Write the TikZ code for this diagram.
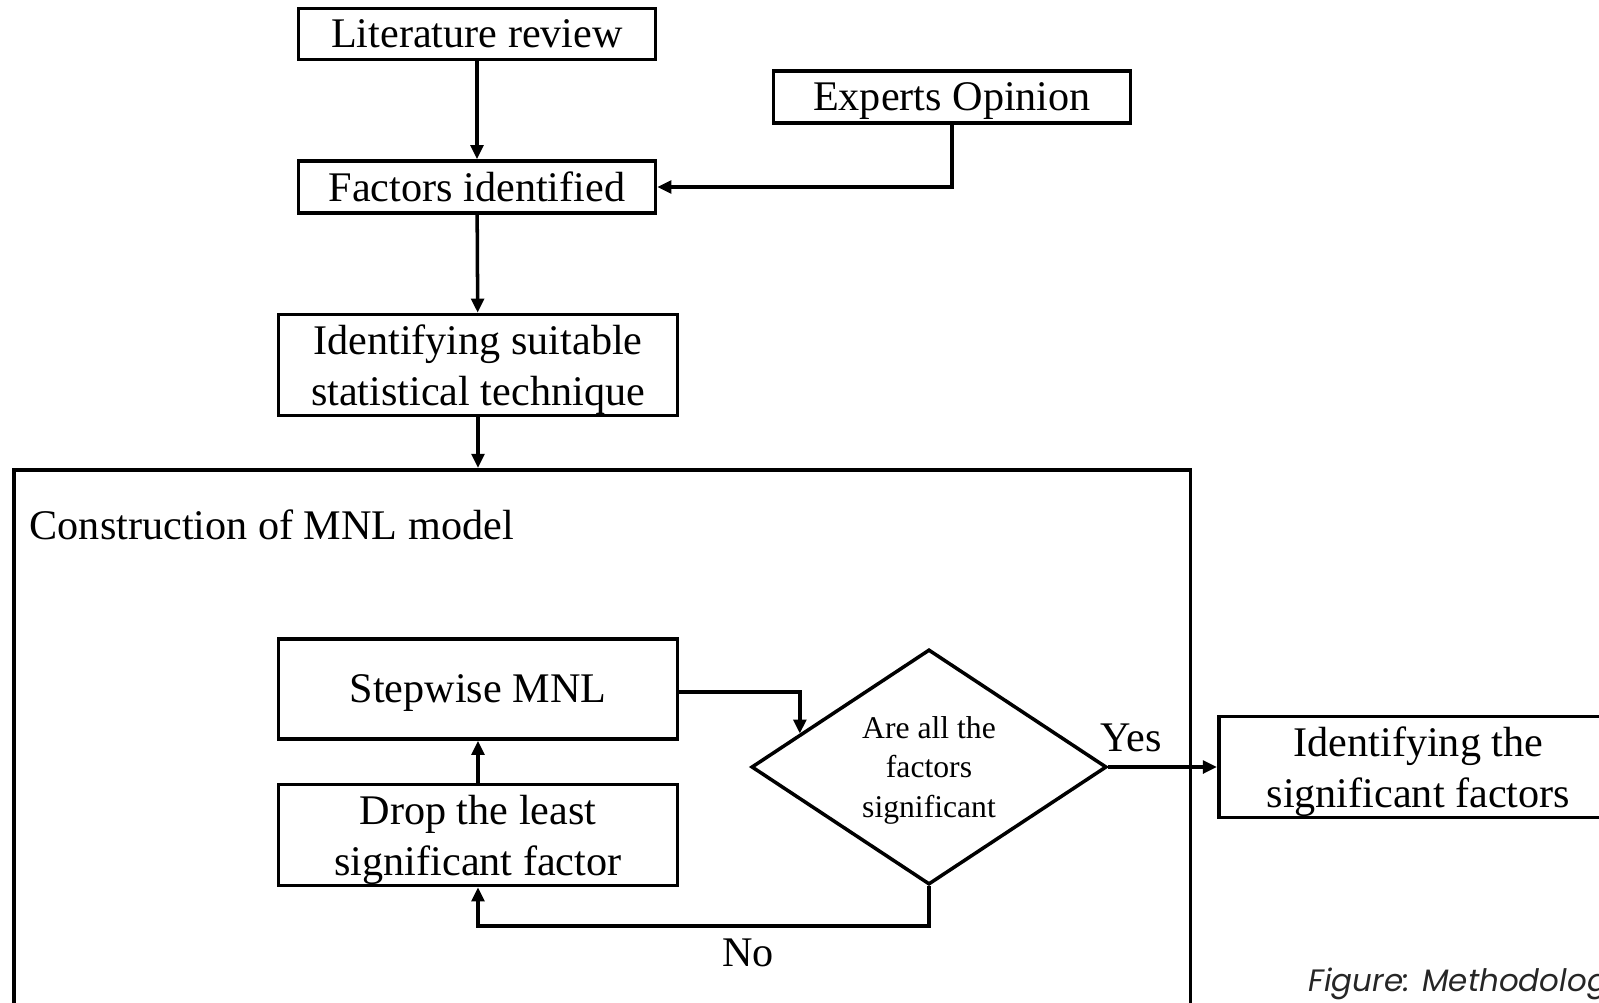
\documentclass[tikz,border=0pt]{standalone}
\usepackage{fontspec}
\setmainfont{Liberation Serif}
\newfontfamily\capfont{Poppins}
\usetikzlibrary{calc,shapes.geometric,arrows.meta}

\begin{document}
\begin{tikzpicture}[x=0.01cm, y=-0.01cm,
	stepbox/.style={draw, line width=1pt, rectangle, inner sep=0pt, text depth=0pt, align=center, font=\fontsize{12}{14.5}\selectfont},
	query/.style={draw, line width=1pt, diamond, inner sep=0pt, text depth=0pt, align=center, minimum width=3.55cm, minimum height=2.35cm, font=\fontsize{9}{11.3}\selectfont},
	flow/.style={line width=1pt, -{Triangle[length=4pt,width=3.6pt]}},
	tag/.style={inner sep=0pt, font=\fontsize{12}{14.5}\selectfont}]
			%%%%% START %%%%%
			\useasboundingbox (0, 0) rectangle (1599, 1003);
			
			\node[stepbox, minimum width=3.57cm, minimum height=0.51cm] (lit) at (477, 34) {Literature review};
			\node[stepbox, minimum width=3.57cm, minimum height=0.52cm] (experts) at (952, 97) {Experts Opinion};
			\node[stepbox, minimum width=3.57cm, minimum height=0.52cm] (factors) at (477, 187) {Factors identified};
			\node[stepbox, minimum width=3.99cm, minimum height=1.01cm] (technique) at (478, 365) {Identifying suitable\\statistical technique};
			
			% MNL model block
			\node[draw, line width=1pt, rectangle, inner sep=0pt, anchor=north west, minimum width=11.76cm, minimum height=5.6cm] (mnl) at (12, 468) {};
			\node[tag, anchor=west] (mnltitle) at (29, 525) {Construction of MNL model};
			
			\node[stepbox, minimum width=3.99cm, minimum height=1.0cm] (stepwise) at (478, 689) {Stepwise MNL};
			\node[stepbox, minimum width=3.99cm, minimum height=1.01cm] (drop) at (478, 835) {Drop the least\\significant factor};
			\node[query] (decide) at (929, 767) {Are all the\\factors\\significant};
			\node[stepbox, minimum width=3.99cm, minimum height=1.01cm, anchor=west] (result) at (1217, 767) {Identifying the\\significant factors};
			
			\node[tag] (yes) at (1131, 738) {Yes};
			\node[tag] (no) at (748, 953) {No};
			
			\coordinate (exit) at ([yshift=-0.03cm]stepwise.east);
			\coordinate (entry) at ($(decide.west)!0.28!(decide.north)$);
			\coordinate (loop) at (929, 926);
			
			\draw[flow] (lit) -- (factors);
			\draw[flow] (experts.south) |- (factors.east);
			\draw[flow] (factors) -- (technique);
			\draw[flow] (technique.south) -- (technique.south |- mnl.north);
			\draw[flow] (exit) -| (entry);
			\draw[flow] (decide.east) -- (result.west);
			\draw[flow] (decide.south) -- (loop) -| (drop.south);
			\draw[flow] (drop.north) -- (stepwise.south);
			
			\node[anchor=base west, inner sep=0pt, text=black!85, font=\capfont\itshape\fontsize{8.8}{10}\selectfont] (caption) at (1308, 991) {Figure: Methodology};
			%%%%% END %%%%%
\end{tikzpicture}
\end{document}
